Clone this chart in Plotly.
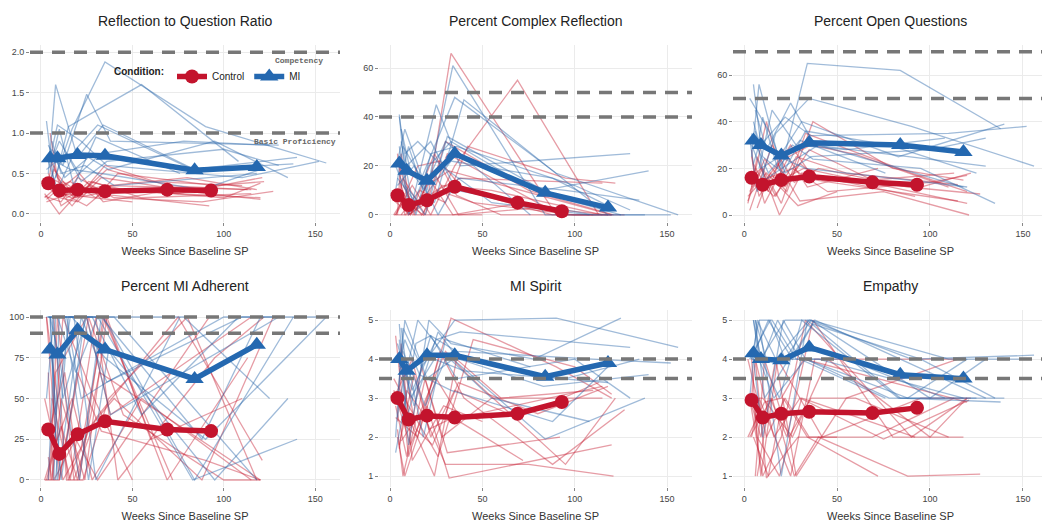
import plotly.graph_objects as go

# ---------------- data ----------------
panel_titles = ["Reflection to Question Ratio", "Percent Complex Reflection", "Percent Open Questions",
                "Percent MI Adherent", "MI Spirit", "Empathy"]
x_title = "Weeks Since Baseline SP"
x_ticks = [0, 50, 100, 150]

mean_weeks_control = [4, 10, 20, 35, 69, 93]
mean_weeks_mi = [5, 9, 20, 35, 84, 118]

# participant measurement weeks
ctrl_weeks = [
    [3, 10, 20, 33, 90, 120], [4, 8, 25, 38, 115], [2, 12, 22, 35, 69, 113],
    [5, 9, 18, 30, 75, 121], [3, 15, 27, 40, 88, 127], [6, 11, 24, 36, 60, 110],
    [4, 7, 19, 31, 92], [2, 10, 26, 45, 100, 120], [5, 13, 21, 34, 72],
    [3, 9, 17, 28, 55, 115], [7, 14, 23, 37, 80, 118], [4, 6, 12, 29, 50],
    [2, 11, 20, 32, 120], [6, 16, 30, 42, 95, 122],
]
mi_weeks = [
    [5, 9, 22, 36, 110, 152], [4, 8, 20, 34, 84, 138], [6, 12, 25, 38, 130],
    [3, 7, 17, 35, 90, 156], [5, 10, 21, 33, 78, 125], [8, 15, 28, 55, 108],
    [4, 9, 19, 31, 83, 140], [6, 11, 24, 40, 118], [3, 14, 22, 36, 100, 130],
    [7, 10, 18, 30, 76], [5, 8, 16, 33, 88, 120], [4, 13, 26, 37, 95, 135],
]

# Reflection to Question Ratio
ratio_ctrl_mean = [0.38, 0.29, 0.30, 0.28, 0.30, 0.29]
ratio_mi_mean = [0.69, 0.69, 0.73, 0.72, 0.54, 0.58]
ratio_ctrl = [
    [0.35, 0.20, 0.15, 0.45, 0.25, 0.18], [0.50, 0.30, 0.10, 0.35, 0.30], [0.20, 0.40, 0.25, 0.60, 0.35, 0.30],
    [1.00, 0.45, 0.20, 0.30, 0.25, 0.45], [0.15, 0.25, 0.35, 0.20, 0.15, 0.28], [0.40, 0.10, 0.30, 0.55, 0.40, 0.35],
    [0.30, 0.55, 0.20, 0.25, 0.10], [0.25, 0.00, 0.40, 0.30, 0.20, 0.38], [0.45, 0.35, 0.50, 0.15, 0.30],
    [0.18, 0.30, 0.10, 0.40, 0.20, 0.25], [0.60, 0.20, 0.30, 0.35, 0.45, 0.30], [0.38, 0.65, 0.25, 0.20, 0.15],
    [0.22, 0.15, 0.45, 0.30, 0.20], [0.30, 0.40, 0.20, 0.50, 0.35, 0.40],
]
ratio_mi = [
    [0.70, 1.10, 0.90, 0.60, 0.45, 0.65], [0.50, 1.60, 0.70, 1.10, 0.55, 0.62], [0.80, 0.60, 1.48, 0.90, 0.85],
    [1.15, 0.40, 1.05, 1.88, 1.08, 0.63], [0.60, 0.90, 0.50, 0.75, 0.90, 0.85], [0.45, 1.08, 1.25, 1.60, 0.65],
    [0.65, 0.30, 0.80, 1.10, 0.55, 0.70], [0.90, 0.50, 0.60, 0.35, 0.50], [0.55, 0.75, 0.40, 0.65, 0.80, 0.60],
    [0.75, 1.05, 0.35, 0.95, 0.50], [0.40, 0.65, 0.55, 0.50, 0.30, 0.55], [0.85, 0.45, 0.70, 0.55, 0.90, 0.45],
]
ratio_refs = [2.0, 1.0]

# Percent Complex Reflection
complex_ctrl_mean = [8, 4, 6, 11.5, 5, 1.5]
complex_mi_mean = [21, 18, 14, 25, 9, 3]
complex_ctrl = [
    [8, 0, 5, 66, 0, 0], [25, 0, 10, 15, 13], [0, 12, 0, 20, 55, 0],
    [14, 5, 0, 30, 10, 0], [0, 20, 22, 10, 0, 0], [10, 0, 25, 8, 0, 0],
    [5, 15, 0, 25, 0], [0, 0, 10, 5, 0, 0], [20, 0, 15, 0, 5],
    [0, 8, 0, 12, 10, 0], [12, 2, 18, 0, 3, 0], [0, 25, 0, 0, 0],
    [6, 0, 12, 18, 0], [0, 10, 5, 28, 15, 13],
]
complex_mi = [
    [40, 20, 30, 10, 0, 0], [22, 35, 10, 61, 0, 0], [30, 5, 45, 20, 25],
    [10, 28, 15, 48, 17, 0], [41, 0, 20, 30, 10, 0], [25, 30, 20, 5, 0],
    [15, 10, 0, 32, 10, 18], [35, 18, 5, 47, 0], [20, 0, 25, 28, 12, 2],
    [18, 28, 10, 30, 0], [28, 12, 5, 22, 15, 3], [12, 20, 0, 15, 10, 6],
]
complex_refs = [50, 40]

# Percent Open Questions
open_ctrl_mean = [16, 13, 15, 16.5, 14, 13]
open_mi_mean = [32, 30, 25.5, 31, 30, 27]
open_ctrl = [
    [10, 20, 5, 35, 18, 10], [25, 8, 30, 15, 6], [5, 40, 12, 28, 15, 18],
    [18, 12, 22, 6, 10, 0], [2, 30, 14, 20, 12, 9], [20, 5, 25, 30, 26, 12],
    [12, 25, 0, 18, 8], [8, 15, 20, 10, 14, 17], [22, 10, 28, 12, 20],
    [15, 20, 8, 25, 18, 13], [3, 18, 10, 40, 20, 15], [28, 12, 18, 4, 10],
    [6, 24, 15, 20, 5], [16, 8, 22, 15, 12, 18],
]
open_mi = [
    [56, 30, 42, 34, 35, 38], [25, 56, 20, 65, 62, 37], [45, 28, 48, 30, 21],
    [33, 10, 35, 50, 38, 21], [40, 25, 18, 36, 30, 18], [20, 45, 30, 28, 33],
    [30, 20, 25, 40, 25, 39], [36, 15, 22, 30, 12], [50, 35, 18, 25, 28, 33],
    [28, 42, 20, 32, 18], [22, 30, 26, 20, 15, 12], [35, 18, 30, 24, 20, 5],
]
open_refs = [70, 50]

# Percent MI Adherent
adh_ctrl_mean = [31, 16, 28, 36, 31, 30]
adh_mi_mean = [80, 77, 92, 80, 62, 83]
adh_ctrl = [
    [100, 0, 66, 30, 12, 0], [0, 66, 100, 40, 100], [50, 0, 20, 100, 0, 75],
    [0, 100, 0, 38, 100, 12], [100, 0, 33, 50, 0, 100], [0, 50, 0, 100, 25, 50],
    [66, 0, 25, 0, 100], [0, 0, 100, 40, 0, 0], [33, 66, 0, 100, 0],
    [0, 25, 50, 0, 50, 0], [100, 0, 0, 50, 100, 0], [14, 0, 100, 50, 0],
    [0, 33, 0, 66, 0], [50, 0, 100, 0, 75, 100],
]
adh_mi = [
    [100, 0, 100, 60, 100, 100], [0, 100, 100, 100, 0, 100], [100, 50, 100, 40, 100],
    [50, 100, 100, 75, 25, 100], [100, 75, 0, 100, 100, 50], [0, 100, 100, 40, 100],
    [100, 100, 66, 100, 0, 25], [75, 0, 100, 100, 0], [100, 100, 50, 60, 100, 100],
    [0, 100, 100, 0, 100], [100, 40, 100, 100, 25, 100], [100, 100, 0, 80, 0, 50],
]
adh_refs = [100, 90]

# MI Spirit
spirit_ctrl_mean = [3.0, 2.45, 2.55, 2.5, 2.6, 2.9]
spirit_mi_mean = [4.0, 3.7, 4.1, 4.1, 3.55, 3.9]
spirit_ctrl = [
    [4.6, 1.5, 3.0, 5.05, 3.8, 3.0], [2.0, 1.0, 3.5, 2.5, 3.3], [3.0, 4.0, 2.0, 3.2, 2.5, 3.4],
    [1.7, 3.2, 2.6, 1.3, 1.3, 1.0], [2.5, 2.0, 4.2, 3.0, 1.3, 2.7], [3.8, 2.4, 1.0, 4.0, 3.0, 3.2],
    [2.2, 1.0, 3.5, 1.6, 2.0], [3.5, 2.8, 1.5, 4.5, 3.8, 3.1], [1.8, 3.6, 2.2, 2.5, 1.4],
    [2.8, 1.5, 3.8, 2.0, 3.0, 3.0], [4.0, 2.2, 1.8, 3.4, 2.6, 3.3], [2.4, 4.4, 1.4, 2.8, 2.4],
    [3.2, 1.8, 2.8, 0.95, 1.8], [1.9, 2.6, 4.2, 3.6, 1.3, 3.0],
]
spirit_mi = [
    [4.9, 2.5, 4.6, 4.2, 4.0, 3.9], [3.0, 5.0, 3.5, 4.0, 1.95, 3.0], [4.0, 3.2, 4.5, 4.7, 4.3],
    [2.0, 4.8, 3.8, 5.0, 5.05, 4.3], [4.5, 1.8, 5.0, 4.4, 4.0, 5.05], [3.5, 5.0, 4.2, 3.0, 2.4],
    [2.5, 4.0, 2.8, 4.1, 3.3, 3.6], [4.8, 3.0, 4.0, 3.7, 3.4], [1.6, 4.4, 4.6, 3.5, 4.0, 3.0],
    [4.2, 3.8, 2.0, 4.5, 3.8], [3.8, 4.5, 3.6, 3.2, 2.4, 3.9], [4.4, 2.8, 4.7, 4.0, 3.5, 4.0],
]
spirit_refs = [4.0, 3.5]

# Empathy
emp_ctrl_mean = [2.95, 2.5, 2.6, 2.65, 2.62, 2.75]
emp_mi_mean = [4.15, 4.0, 3.97, 4.3, 3.6, 3.5]
emp_ctrl = [
    [3, 1, 2, 5, 2, 3], [2, 3, 1, 4, 4], [4, 2, 3, 2, 2, 3],
    [3, 1, 4, 3, 1.95, 2.95], [2, 3, 1, 2, 1, 1.05], [1, 4, 2, 3, 3, 2],
    [4, 2, 1, 3, 2], [3, 3, 2, 4, 2, 3], [2, 1, 3, 2, 1],
    [3, 2, 4, 1, 3, 4], [1, 3, 2, 5, 2, 2], [3, 4, 0.95, 2, 2],
    [2, 2.9, 3, 4, 2.9], [4, 2, 3, 2, 3, 3],
]
emp_mi = [
    [5, 4, 5, 5, 4, 4], [4, 5, 1, 5, 3, 2.9], [5, 4, 4, 5, 3],
    [3, 5, 4, 5, 4, 4.1], [4, 2, 5, 4, 3, 3], [5, 5, 4, 4, 3],
    [4, 4, 3, 5, 3, 3], [5, 3, 4, 4, 3], [4, 5, 4, 5, 3, 4],
    [4, 4, 5, 4, 3], [5, 4, 3, 4, 3, 4], [4, 5, 4, 4.9, 4, 3],
]
emp_refs = [4.0, 3.5]

y_ticks = [[0, 0.5, 1.0, 1.5, 2.0], [0, 20, 40, 60], [0, 20, 40, 60],
           [0, 25, 50, 75, 100], [1, 2, 3, 4, 5], [1, 2, 3, 4, 5]]
y_tickformats = [".1f", "d", "d", "d", "d", "d"]
y_ranges = [[-0.1, 2.09], [-2.9, 69.4], [-3, 72.9], [-4.3, 104.3], [0.72, 5.26], [0.72, 5.26]]

panels = [
    (ratio_ctrl, ratio_mi, ratio_ctrl_mean, ratio_mi_mean, ratio_refs),
    (complex_ctrl, complex_mi, complex_ctrl_mean, complex_mi_mean, complex_refs),
    (open_ctrl, open_mi, open_ctrl_mean, open_mi_mean, open_refs),
    (adh_ctrl, adh_mi, adh_ctrl_mean, adh_mi_mean, adh_refs),
    (spirit_ctrl, spirit_mi, spirit_ctrl_mean, spirit_mi_mean, spirit_refs),
    (emp_ctrl, emp_mi, emp_ctrl_mean, emp_mi_mean, emp_refs),
]

# ---------------- styling ----------------
W, H = 1042, 522          # page body has an 8px margin
RED = "#C3142D"
BLUE = "#2468B0"
RED_THIN = "rgba(200,35,55,0.45)"
BLUE_THIN = "rgba(45,105,170,0.45)"
FONT = "Liberation Sans, Arial, sans-serif"

col_px = [(22, 332), (371, 684), (725, 1040)]
row_px = [(37, 214), (302, 479)]
x_range = [-6, 163.5]


def spaghetti(weeks, vals):
    xs, ys = [], []
    for w, v in zip(weeks, vals):
        xs += list(w) + [None]
        ys += list(v) + [None]
    return xs, ys


fig = go.Figure()
layout = {}
for i, (c_lines, m_lines, c_mean, m_mean, refs) in enumerate(panels):
    r, c = divmod(i, 3)
    sfx = "" if i == 0 else str(i + 1)
    xa, ya = "x" + sfx, "y" + sfx
    x0, x1 = col_px[c]
    y0, y1 = row_px[r]
    layout["xaxis" + sfx] = dict(
        domain=[x0 / W, x1 / W], anchor=ya, range=x_range, tickvals=x_ticks,
        showgrid=True, gridcolor="#EBEBEB", gridwidth=1, zeroline=False, showline=False,
        ticks="outside", ticklen=3, tickcolor="#888", tickfont=dict(size=9, color="#444", family=FONT),
        title=dict(text=x_title, font=dict(size=11, color="#333", family=FONT), standoff=9),
    )
    layout["yaxis" + sfx] = dict(
        domain=[1 - y1 / H, 1 - y0 / H], anchor=xa, range=y_ranges[i], tickvals=y_ticks[i],
        tickformat=y_tickformats[i],
        showgrid=True, gridcolor="#EBEBEB", gridwidth=1, zeroline=False, showline=False,
        ticks="outside", ticklen=3, tickcolor="#888", tickfont=dict(size=9, color="#444", family=FONT),
    )
    # individual trajectories
    cx, cy = spaghetti(ctrl_weeks, c_lines)
    mx, my = spaghetti(mi_weeks, m_lines)
    fig.add_trace(go.Scatter(x=cx, y=cy, mode="lines", xaxis=xa, yaxis=ya, showlegend=False,
                             line=dict(color=RED_THIN, width=1.3), hoverinfo="skip"))
    fig.add_trace(go.Scatter(x=mx, y=my, mode="lines", xaxis=xa, yaxis=ya, showlegend=False,
                             line=dict(color=BLUE_THIN, width=1.3), hoverinfo="skip"))
    # means
    fig.add_trace(go.Scatter(x=mean_weeks_control, y=c_mean, mode="lines+markers", xaxis=xa, yaxis=ya,
                             name="Control", showlegend=(i == 0), legendgroup="c",
                             line=dict(color=RED, width=5.5),
                             marker=dict(symbol="circle", size=14, color=RED)))
    fig.add_trace(go.Scatter(x=mean_weeks_mi, y=m_mean, mode="lines+markers", xaxis=xa, yaxis=ya,
                             name="MI", showlegend=(i == 0), legendgroup="m",
                             line=dict(color=BLUE, width=5.5),
                             marker=dict(symbol="triangle-up", size=16, color=BLUE)))
    # reference lines
    for ref in refs:
        fig.add_shape(type="line", xref=xa + " domain", yref=ya, x0=0, x1=1, y0=ref, y1=ref,
                      line=dict(color="#777777", width=3.5, dash="13px,9px"), layer="above")
    # panel title
    fig.add_annotation(text=panel_titles[i], xref="paper", yref="paper",
                       x=(x0 + x1) / 2 / W, y=1 - (y0 - 24) / H, showarrow=False,
                       xanchor="center", yanchor="middle",
                       font=dict(size=14, color="#222", family=FONT))

fig.add_annotation(text="<b>Competency</b>", xref="x", yref="y", x=141, y=1.9, showarrow=False,
                   xanchor="center", font=dict(size=8, color="#666", family="Liberation Mono, monospace"))
fig.add_annotation(text="<b>Basic Proficiency</b>", xref="x", yref="y", x=139, y=0.89, showarrow=False,
                   xanchor="center", font=dict(size=8, color="#666", family="Liberation Mono, monospace"))

fig.update_layout(
    width=W, height=H, margin=dict(l=0, r=0, t=0, b=0),
    plot_bgcolor="white", paper_bgcolor="white",
    font=dict(family=FONT, color="#333"),
    legend=dict(orientation="h", x=104 / W, y=1 - 54 / H, xanchor="left", yanchor="top",
                title=dict(text="<b>Condition:</b>", font=dict(size=10, color="#222", family=FONT)),
                font=dict(size=10, color="#222", family=FONT), bgcolor="rgba(0,0,0,0)",
                itemwidth=30, tracegroupgap=0),
    **layout,
)

fig.write_html("out.html")
